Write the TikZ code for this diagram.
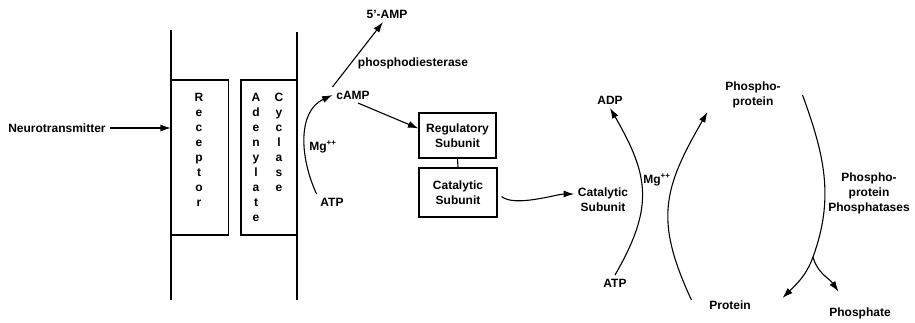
\documentclass[tikz,border=0pt]{standalone}
\usepackage{fontspec}
\setmainfont{Liberation Sans}
\usepackage{tikz}
\usetikzlibrary{arrows.meta}

\begin{document}
\begin{tikzpicture}[x=1pt,y=1pt,line width=1.1pt,
  txt/.style={font=\bfseries\fontsize{12}{15}\selectfont,align=center,inner sep=3.3pt},
  letter/.style={font=\bfseries\fontsize{12}{15}\selectfont,anchor=base,inner sep=0pt},
  membox/.style={draw,minimum height=155pt,inner sep=0pt},
  subbox/.style={draw,txt,minimum width=78pt},
  arr/.style={-{Latex[length=10.5pt,width=7pt]}}]
\useasboundingbox (0,0) rectangle (915,322);
\draw (171,292) -- (171,22);
\draw (297,290) -- (297,22);
\node[membox,minimum width=57pt] (receptor) at (200,164.5) {};
\node[membox,minimum width=56pt] (cyclase) at (269,164.5) {};
\foreach \ch [count=\i from 0] in {R,e,c,e,p,t,o,r}
  \node[letter] (rec\i) at (199,221-15*\i) {\ch};
\foreach \ch [count=\i from 0] in {A,d,e,n,y,l,a,t,e}
  \node[letter] (ade\i) at (256,221-15*\i) {\ch};
\foreach \ch [count=\i from 0] in {C,y,c,l,a,s,e}
  \node[letter] (cyc\i) at (279,221-15*\i) {\ch};
\node[txt] (nt) at (57,194) {Neurotransmitter};
\draw[arr] (nt.east) -- (nt.east -| receptor.west);
\node[txt] (amp5) at (387,308) {5'-AMP};
\node[txt] (pde) at (413,259) {phosphodiesterase};
\node[txt] (camp) at (353,227) {cAMP};
\node[txt] (atpa) at (332,120) {ATP};
\node[txt] (mga) at (323,175) {Mg\textsuperscript{++}};
\node[subbox,minimum width=77pt,minimum height=45pt] (reg) at (457.5,186.5) {Regulatory\\Subunit};
\node[subbox,minimum height=49pt] (cat) at (458,129.5) {Catalytic\\Subunit};
\node[txt] (catb) at (603,122) {Catalytic\\Subunit};
\node[txt] (adp) at (610,222) {ADP};
\node[txt] (atpb) at (615,39) {ATP};
\node[txt] (mgb) at (657,142) {Mg\textsuperscript{++}};
\node[txt] (phpr) at (753,227) {Phospho-\\protein};
\node[txt] (prot) at (730,17) {Protein};
\node[txt] (ppase) at (869,129) {Phospho-\\protein\\Phosphatases};
\node[txt] (phos) at (860,9) {Phosphate};
\coordinate (br) at (813,65);
\draw[arr] (camp.north west) -- ([xshift=-4pt]amp5.south);
\draw[arr] (atpa.north west) to[out=115,in=205] (camp.west);
\draw[arr] ([xshift=5pt]camp.south) -- ([yshift=7pt]reg.west);
\draw (reg.south) -- (cat.north);
\draw[arr] ([shift={(4pt,-4pt)}]cat.east) to[out=-40,in=180,looseness=0.6] ([yshift=6pt]catb.west);
\draw[arr] (atpb.north) to[out=60,in=-60,looseness=1.2] (adp.south);
\draw[arr] ([shift={(-14pt,5pt)}]prot.west) to[out=115,in=-120,looseness=1.2] ([xshift=-14pt]phpr.south west);
\draw[arr] ([xshift=18pt]phpr.east) to[out=-70,in=70] (br) to[out=-110,in=45] ([shift={(28pt,7pt)}]prot.east);
\draw[arr] (br) to[out=-75,in=125] ([shift={(13pt,12pt)}]phos.north west);
\end{tikzpicture}
\end{document}
